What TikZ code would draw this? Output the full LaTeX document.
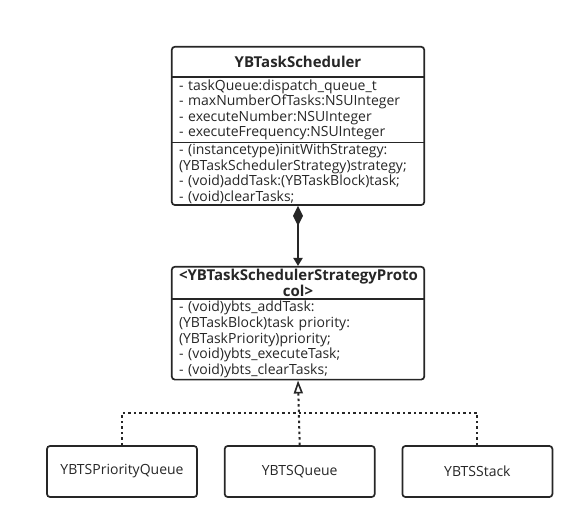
\documentclass[tikz,border=0pt]{standalone}
\usepackage{fontspec}
\setmainfont{Open Sans}
\usetikzlibrary{arrows.meta,positioning,fit}

\begin{document}
\begin{tikzpicture}[x=1pt, y=-1pt,
      font=\fontsize{14}{15.6}\selectfont,
      line/.style={draw=black!85, line width=1.7pt},
      part/.style={text width=238pt, inner xsep=7pt, inner ysep=0pt, align=left, text=black!85},
      head/.style={part, align=center, font=\fontsize{15}{15.6}\selectfont\bfseries},
      frame/.style={line, rounded corners=3pt, inner sep=0pt},
      impl/.style={line, rounded corners=3pt, minimum width=150pt, minimum height=51pt,
                   inner sep=2pt, text=black!85},
      own/.style={line, line width=2pt, {Diamond[length=20pt,width=10pt]}-{Triangle[length=8pt,width=9pt]}},
      realize/.style={draw=black!85, line width=2pt, dash pattern=on 2.5pt off 3pt},
      node distance=26pt]
    \useasboundingbox (0,0) rectangle (581,529);
    % scheduler class
    \node[head, minimum height=30pt] (sched) at (298,62) {YBTaskScheduler};
    \node[part, minimum height=65pt, below=0pt of sched] (schedattr)
      {- taskQueue:dispatch\_queue\_t\\- maxNumberOfTasks:NSUInteger\\- executeNumber:NSUInteger\\- executeFrequency:NSUInteger};
    \node[part, minimum height=62pt, below=0pt of schedattr] (schedops)
      {- (instancetype)initWithStrategy:\\(YBTaskSchedulerStrategy)strategy;\\- (void)addTask:(YBTaskBlock)task;\\- (void)clearTasks;};
    \node[frame, fit=(sched)(schedattr)(schedops)] (schedbox) {};
    \draw[line] (sched.south west) -- (sched.south east);
    \draw[line] (schedattr.south west) -- (schedattr.south east);
    % strategy protocol
    \node[head, minimum height=32pt] (proto) at (298,283) {<YBTaskSchedulerStrategyProto\\col>};
    \node[part, minimum height=80pt, below=0pt of proto] (protoops)
      {- (void)ybts\_addTask:\\(YBTaskBlock)task priority:\\(YBTaskPriority)priority;\\- (void)ybts\_executeTask;\\- (void)ybts\_clearTasks;};
    \node[frame, fit=(proto)(protoops)] (protobox) {};
    \draw[line] (proto.south west) -- (proto.south east);
    % implementations
    \node[impl] (prioq) at (122,471.5) {YBTSPriorityQueue};
    \node[impl, right=of prioq] (queue) {YBTSQueue};
    \node[impl, right=of queue] (stack) {YBTSStack};
    \coordinate (joint) at (queue.north |- 0,413);
    \draw[own] (schedbox.south) -- (protobox.north);
    \draw[realize] (prioq.north) |- (joint);
    \draw[realize] (stack.north) |- (joint);
    \draw[realize, -{Triangle[open, length=13pt, width=9pt, line width=1.6pt]}] (queue.north) -- (protobox.south);
  \end{tikzpicture}
\end{document}
